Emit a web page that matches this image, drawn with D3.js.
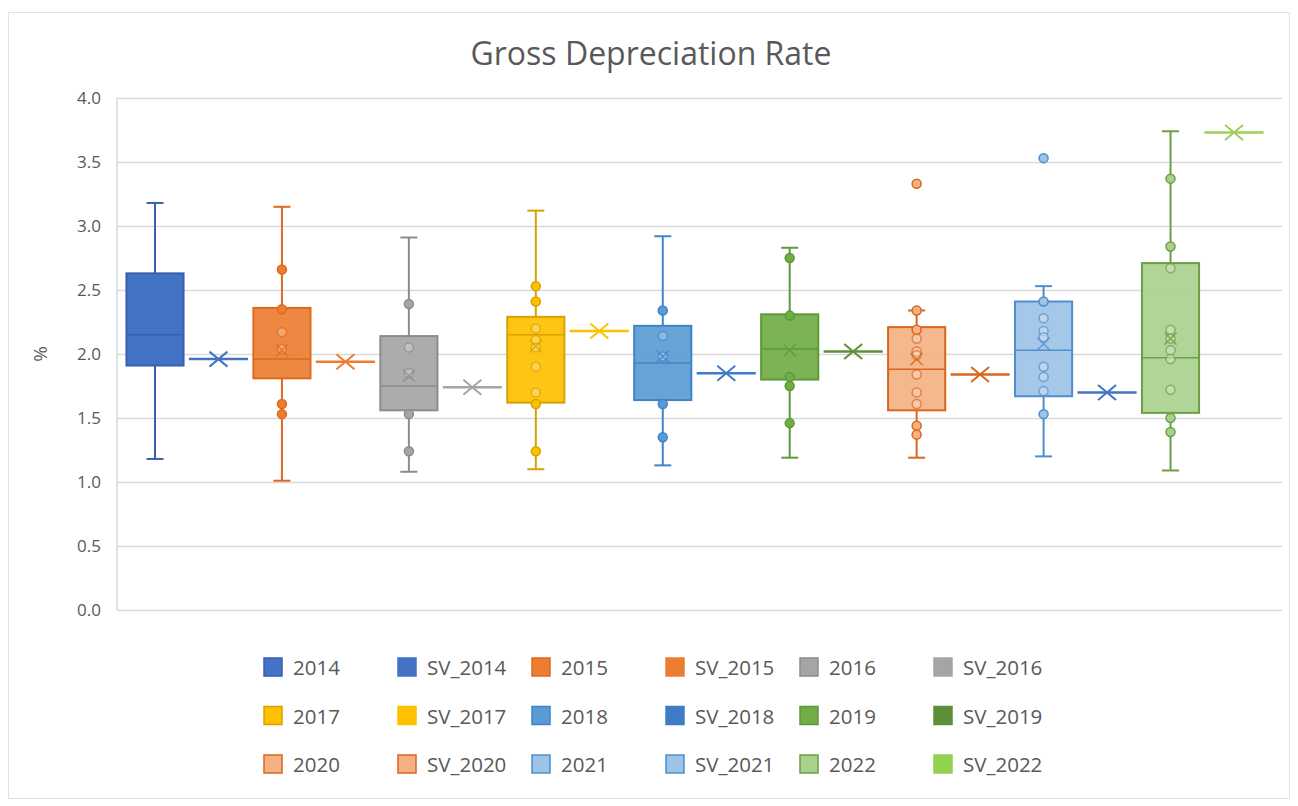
<!DOCTYPE html>
<html>
<head>
<meta charset="utf-8">
<script src="https://cdn.jsdelivr.net/npm/d3@7"></script>
<style>
  body { margin: 0; background: #fff; }
  text { font-family: "Open Sans", "Noto Sans", sans-serif; fill: #595959; }
</style>
</head>
<body>
<div id="chart"></div>
<script>
// series names
const years = ["2014", "2015", "2016", "2017", "2018", "2019", "2020", "2021", "2022"];

// box statistics per year
const whiskerLow  = [1.18, 1.01, 1.08, 1.10, 1.13, 1.19, 1.19, 1.20, 1.09];
const quartile1   = [1.91, 1.81, 1.56, 1.62, 1.64, 1.80, 1.56, 1.67, 1.54];
const medians     = [2.15, 1.96, 1.75, 2.15, 1.93, 2.04, 1.88, 2.03, 1.97];
const quartile3   = [2.63, 2.36, 2.14, 2.29, 2.22, 2.31, 2.21, 2.41, 2.71];
const whiskerHigh = [3.18, 3.15, 2.91, 3.12, 2.92, 2.83, 2.34, 2.53, 3.74];
const means       = [2.17, 2.03, 1.83, 2.06, 1.98, 2.03, 1.96, 2.08, 2.12];

// individual points shown on each box
const points = [
  [],
  [2.66, 2.35, 2.17, 2.04, 1.61, 1.53],
  [2.39, 2.05, 1.85, 1.53, 1.24],
  [2.53, 2.41, 2.20, 2.11, 2.05, 1.90, 1.70, 1.61, 1.24],
  [2.34, 2.14, 1.98, 1.61, 1.35],
  [2.75, 2.30, 1.82, 1.75, 1.46],
  [2.34, 2.19, 2.12, 2.02, 1.99, 1.84, 1.70, 1.61, 1.44, 1.37],
  [2.41, 2.28, 2.18, 2.13, 1.90, 1.82, 1.71, 1.53],
  [3.37, 2.84, 2.67, 2.19, 2.12, 2.03, 1.96, 1.72, 1.50, 1.39]
];
const outliers = [[], [], [], [], [], [], [3.33], [3.53], []];

// single-value SV series
const svValues = [1.96, 1.94, 1.74, 2.18, 1.85, 2.02, 1.84, 1.70, 3.73];

const yTicks = [0, 0.5, 1, 1.5, 2, 2.5, 3, 3.5, 4];

// colours
const boxFill = ["#4472C4", "#ED7D31", "#A5A5A5", "#FFC000", "#5B9BD5", "#70AD47", "#F4B183", "#9DC3E6", "#A9D18E"];
const boxLine = ["#3A5FAE", "#DD6A1F", "#8C8C8C", "#D6A200", "#3F84C8", "#5E9A3A", "#D9671E", "#4F8DD0", "#6A9F45"];
const svColor = ["#4472C4", "#ED7D31", "#A5A5A5", "#FFC000", "#3F7CC8", "#5E8F3A", "#D9671E", "#4472C4", "#9BD05B"];

const W = 1298, H = 806;
const plot = {left: 117, right: 1282, top: 98, bottom: 610};

const svg = d3.select("#chart").append("svg")
    .attr("width", W)
    .attr("height", H);

// outer chart border
svg.append("rect")
    .attr("x", 8.5).attr("y", 12.5)
    .attr("width", W - 17).attr("height", H - 20)
    .attr("fill", "#fff")
    .attr("stroke", "#E3E3E3");

// title
svg.append("text")
    .attr("x", 651).attr("y", 52)
    .attr("text-anchor", "middle")
    .attr("dominant-baseline", "central")
    .style("font-size", "32px")
    .text("Gross Depreciation Rate");

// series keys: 2014, SV_2014, 2015, ...
let keys = [];
years.forEach(function (y) {
    keys.push(y);
    keys.push("SV_" + y);
});

let x = d3.scalePoint()
    .domain(keys)
    .range([plot.left + 38, plot.right - 48]);
let step = x.step();
let bw = step * 0.9;

let y = d3.scaleLinear()
    .domain([0, 4])
    .range([plot.bottom, plot.top]);

// Y axis with gridlines
let yAxis = svg.append("g")
    .attr("transform", "translate(" + plot.left + ",0)")
    .call(d3.axisLeft(y)
        .tickValues(yTicks)
        .tickFormat(d3.format(".1f"))
        .tickSize(-(plot.right - plot.left))
        .tickPadding(16));
yAxis.select(".domain").remove();
yAxis.selectAll(".tick line")
    .attr("stroke", "#D9D9D9")
    .attr("stroke-width", 1.5);
yAxis.selectAll(".tick text")
    .style("font-size", "17px")
    .attr("fill", "#595959");

// left edge line of plot area
svg.append("line")
    .attr("x1", plot.left).attr("x2", plot.left)
    .attr("y1", plot.top).attr("y2", plot.bottom)
    .attr("stroke", "#D9D9D9")
    .attr("stroke-width", 1.5);

// y axis title
svg.append("text")
    .attr("transform", "translate(40," + y(2) + ") rotate(-90)")
    .attr("text-anchor", "middle")
    .attr("dominant-baseline", "central")
    .style("font-size", "19px")
    .text("%");

function crossPath(cx, cy, hw, hh) {
    return "M" + (cx - hw) + "," + (cy - hh) + "L" + (cx + hw) + "," + (cy + hh) +
        "M" + (cx - hw) + "," + (cy + hh) + "L" + (cx + hw) + "," + (cy - hh);
}

let marks = svg.append("g");

years.forEach(function (yr, i) {
    let cx = x(yr);
    let g = marks.append("g").attr("class", "box_" + yr);
    let line = boxLine[i];
    let capW = 17;

    // whiskers
    g.append("line")
        .attr("x1", cx).attr("x2", cx)
        .attr("y1", y(whiskerHigh[i])).attr("y2", y(quartile3[i]))
        .attr("stroke", line).attr("stroke-width", 2);
    g.append("line")
        .attr("x1", cx).attr("x2", cx)
        .attr("y1", y(quartile1[i])).attr("y2", y(whiskerLow[i]))
        .attr("stroke", line).attr("stroke-width", 2);
    [whiskerHigh[i], whiskerLow[i]].forEach(function (v) {
        g.append("line")
            .attr("x1", cx - capW / 2).attr("x2", cx + capW / 2)
            .attr("y1", y(v)).attr("y2", y(v))
            .attr("stroke", line).attr("stroke-width", 2);
    });

    // box
    g.append("rect")
        .attr("x", cx - bw / 2)
        .attr("y", y(quartile3[i]))
        .attr("width", bw)
        .attr("height", y(quartile1[i]) - y(quartile3[i]))
        .attr("fill", boxFill[i])
        .attr("fill-opacity", i === 0 ? 1 : 0.92)
        .attr("stroke", line)
        .attr("stroke-width", 2);

    // median
    g.append("line")
        .attr("x1", cx - bw / 2).attr("x2", cx + bw / 2)
        .attr("y1", y(medians[i])).attr("y2", y(medians[i]))
        .attr("stroke", line).attr("stroke-width", 1.5);

    // inner points
    let light = d3.interpolateRgb(boxFill[i], "#ffffff")(0.45);
    let inside = function (d) { return d > quartile1[i] + 0.02 && d < quartile3[i] - 0.02; };
    g.selectAll("circle.pt")
        .data(points[i])
        .join("circle")
        .attr("class", "pt")
        .attr("cx", cx)
        .attr("cy", function (d) { return y(d); })
        .attr("r", 4.5)
        .attr("fill", function (d) { return inside(d) ? light : boxFill[i]; })
        .attr("fill-opacity", function (d) { return inside(d) ? 0.6 : 1; })
        .attr("stroke", line)
        .attr("stroke-opacity", function (d) { return inside(d) ? 0.7 : 1; })
        .attr("stroke-width", 1.5);

    // outliers
    g.selectAll("circle.out")
        .data(outliers[i])
        .join("circle")
        .attr("class", "out")
        .attr("cx", cx)
        .attr("cy", function (d) { return y(d); })
        .attr("r", 4.5)
        .attr("fill", boxFill[i])
        .attr("stroke", line)
        .attr("stroke-width", 1.5);

    // mean marker
    if (i > 0) {
        g.append("path")
            .attr("d", crossPath(cx, y(means[i]), 6, 6))
            .attr("fill", "none")
            .attr("stroke", line)
            .attr("stroke-opacity", 0.8)
            .attr("stroke-width", 1.5);
    }

    // SV series: collapsed box drawn as a line with a mean cross
    let sx = x("SV_" + yr);
    let sy = y(svValues[i]);
    marks.append("line")
        .attr("x1", sx - bw / 2 - 1).attr("x2", sx + bw / 2 + 1)
        .attr("y1", sy).attr("y2", sy)
        .attr("stroke", svColor[i])
        .attr("stroke-width", 2.5);
    marks.append("path")
        .attr("d", crossPath(sx, sy, 9, 7.5))
        .attr("fill", "none")
        .attr("stroke", svColor[i])
        .attr("stroke-width", 2);
});

// legend
let legendFill = [], legendStroke = [];
years.forEach(function (yr, i) {
    legendFill.push(boxFill[i]);
    legendStroke.push(boxLine[i]);
    legendFill.push(svColor[i] === "#9BD05B" ? "#92D050" : (i >= 6 ? boxFill[i] : svColor[i]));
    legendStroke.push(i >= 6 && i < 8 ? boxLine[i] : null);
});

let legend = svg.append("g")
    .attr("transform", "translate(263,667)");
let item = legend.selectAll("g")
    .data(keys)
    .join("g")
    .attr("transform", function (d, k) {
        return "translate(" + (134 * (k % 6)) + "," + (48.5 * Math.floor(k / 6)) + ")";
    });
item.append("rect")
    .attr("x", 1).attr("y", -9)
    .attr("width", 18).attr("height", 18)
    .attr("fill", function (d, k) { return legendFill[k]; })
    .attr("stroke", function (d, k) { return legendStroke[k] || legendFill[k]; })
    .attr("stroke-width", 1.5);
item.append("text")
    .attr("x", 30)
    .attr("dominant-baseline", "central")
    .style("font-size", "20.5px")
    .text(function (d) { return d; });
</script>
</body>
</html>
